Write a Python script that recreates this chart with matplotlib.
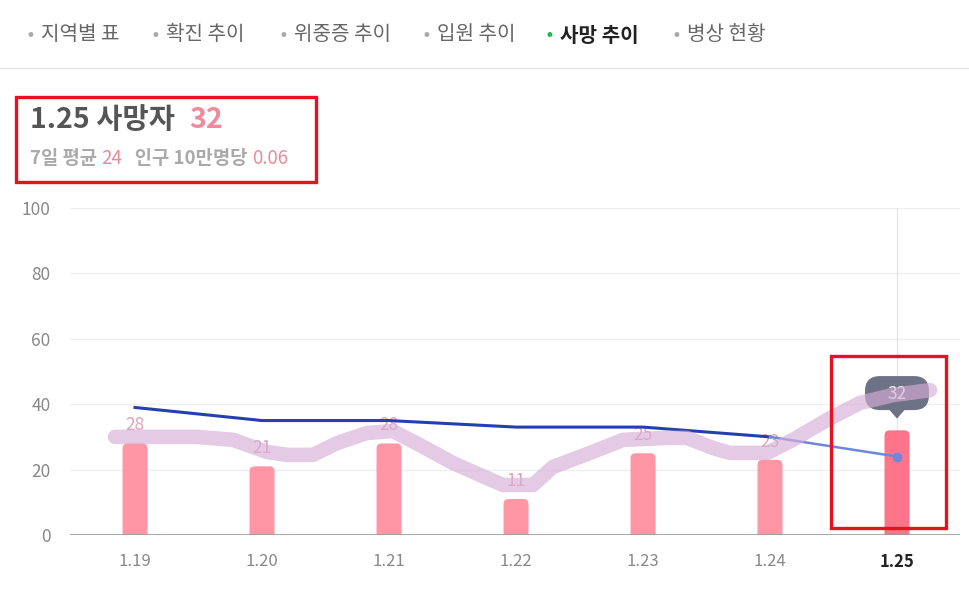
import matplotlib
matplotlib.use("Agg")
import matplotlib.pyplot as plt
from matplotlib.patches import FancyBboxPatch, Rectangle, Polygon
from matplotlib.lines import Line2D

plt.rcParams['font.family'] = ['Noto Sans CJK KR', 'DejaVu Sans']

# ---- data ----
dates = ["1.19", "1.20", "1.21", "1.22", "1.23", "1.24", "1.25"]
deaths = [28, 21, 28, 11, 25, 23, 32]
avg7 = [39, 35, 35, 33, 33, 30, 24]
yticks = [0, 20, 40, 60, 80, 100]
tabs = ["지역별 표", "확진 추이", "위중증 추이", "입원 추이", "사망 추이", "병상 현황"]
active_tab = "사망 추이"
# freehand highlighter annotation path (category position, value)
hl_x = [-0.157, 0.488, 0.772, 1.039, 1.197, 1.402, 1.591, 1.827, 2.031, 2.244, 2.504,
        2.772, 2.898, 3.134, 3.291, 3.583, 3.843, 4.189, 4.346, 4.551, 4.685, 4.976,
        5.181, 5.449, 5.709, 5.969, 6.260]
hl_y = [30.0, 30.0, 29.1, 25.4, 24.5, 24.5, 28.1, 31.2, 31.8, 27.5, 22.0,
        17.4, 15.3, 15.3, 20.8, 25.1, 29.1, 29.7, 29.7, 26.6, 25.1, 25.1,
        29.1, 35.2, 40.4, 42.8, 44.3]

W, H = 969, 594
fig = plt.figure(figsize=(W / 100, H / 100), dpi=100)

def fx(px):
    return px / W

def fy(py):
    return 1 - py / H

# ---- nav tabs ----
bullet_x = [30, 155, 283, 426, 549, 676]
for bx, t in zip(bullet_x, tabs):
    act = (t == active_tab)
    fig.text(fx(bx), fy(36), "•", color="#1fb74c" if act else "#aaaaaa",
             fontsize=12, ha="center", va="center", family=['DejaVu Sans'])
    fig.text(fx(bx + 11), fy(35), t, color="#222222" if act else "#666666",
             fontsize=14.5, fontweight="bold" if act else "normal",
             ha="left", va="center")
fig.add_artist(Line2D([0, 1], [fy(68), fy(68)], color="#e8e8e8", lw=1))

# ---- header box ----
fig.text(fx(30), fy(120), "1.25 사망자", color="#555555", fontsize=20.5,
         fontweight="bold", ha="left", va="center")
fig.text(fx(189), fy(120), str(deaths[-1]), color="#f0899b", fontsize=20.5,
         fontweight="bold", ha="left", va="center")
x0 = 30
parts = [("7일 평균 ", "#aaaaaa", "bold"), ("24", "#e98a9c", "normal"),
         ("   인구 10만명당 ", "#aaaaaa", "bold"), ("0.06", "#e98a9c", "normal")]
fig.canvas.draw()
r = fig.canvas.get_renderer()
for s, c, w in parts:
    t = fig.text(fx(x0), fy(158), s, color=c, fontsize=13.5, fontweight=w,
                 ha="left", va="center")
    bb = t.get_window_extent(renderer=r)
    x0 += bb.width
fig.add_artist(Rectangle((fx(16), fy(182)), fx(316) - fx(16), fy(97) - fy(182),
                         fill=False, edgecolor="#e8121f", lw=2.4))

# ---- chart ----
ax = fig.add_axes([fx(70), fy(535), fx(960) - fx(70), fy(208) - fy(535)])
ax.set_xlim(-0.512, 6.496)
ax.set_ylim(0, 100)
for s in ax.spines.values():
    s.set_visible(False)
for v in yticks[1:]:
    ax.axhline(v, color="#efefef", lw=1, zorder=0)
ax.axhline(0, color="#999999", lw=1.2, zorder=3)
ax.axvline(6, color="#e6e6e6", lw=1, zorder=0)

ax.set_yticks(yticks)
ax.set_yticklabels([str(v) for v in yticks], color="#888888", fontsize=12.5)
ax.set_xticks(range(len(dates)))
ax.set_xticklabels(dates, color="#888888", fontsize=12)
xt = ax.get_xticklabels()
xt[-1].set_color("#222222")
xt[-1].set_fontweight("bold")
ax.tick_params(length=0, pad=13)
ax.tick_params(axis="y", pad=14)

bw = 25 / 127
rad_x = 5 / 127
aspect = (5 / 3.27) / rad_x
for i, v in enumerate(deaths):
    col = "#ff7489" if i == len(deaths) - 1 else "#ff96a6"
    p = FancyBboxPatch((i - bw / 2, -3), bw, v + 3,
                       boxstyle=f"round,pad=0,rounding_size={rad_x}",
                       mutation_aspect=aspect, facecolor=col, edgecolor="none",
                       zorder=2, clip_on=True)
    ax.add_patch(p)
    if i < len(deaths) - 1:
        ax.text(i, v + 5.5, str(v), color="#e3a2b4", fontsize=12.5,
                ha="center", va="center", zorder=2)

ax.plot(range(len(avg7) - 1), avg7[:-1], color="#2440b0", lw=2.2, zorder=4)
ax.plot([len(avg7) - 2, len(avg7) - 1], avg7[-2:], color="#6f86da", lw=1.8, zorder=4)
ax.plot([len(avg7) - 1], [avg7[-1]], "o", color="#6f86da", ms=6, zorder=5)

# tooltip bubble
last = len(deaths) - 1
bub_w = 64 / 127
bub = FancyBboxPatch((last - bub_w / 2, 38.2), bub_w, 10.4,
                     boxstyle=f"round,pad=0,rounding_size={15/127}",
                     mutation_aspect=(15 / 3.27) / (15 / 127),
                     facecolor="#6e7286", edgecolor="none", zorder=6)
ax.add_patch(bub)
ax.add_patch(Polygon([[last - 8 / 127, 38.4], [last + 8 / 127, 38.4], [last, 35.6]],
                     closed=True, facecolor="#6e7286", edgecolor="none", zorder=6))
ax.text(last, 43.2, str(deaths[-1]), color="white", fontsize=12.5,
        ha="center", va="center", zorder=7)

# highlighter
ax.plot(hl_x, hl_y, color="#d6aed6", alpha=0.65, lw=10.5, solid_capstyle="round",
        solid_joinstyle="round", zorder=8)

fig.add_artist(Rectangle((fx(831), fy(528)), fx(946) - fx(831), fy(356) - fy(528),
                         fill=False, edgecolor="#e8121f", lw=2.4, zorder=10))

fig.savefig("out.png", dpi=100, facecolor="white")
